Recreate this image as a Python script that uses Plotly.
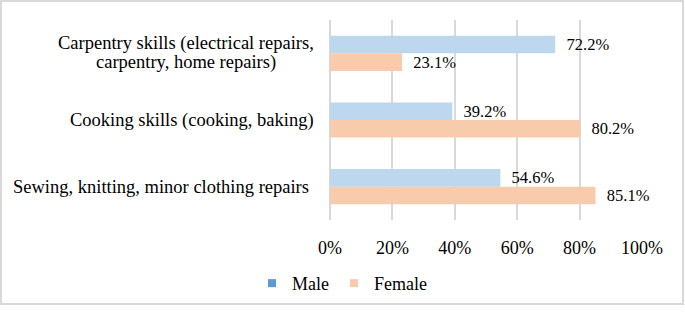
import plotly.graph_objects as go

# ---- data ----
categories = [
    "Carpentry skills (electrical repairs,<br>carpentry, home repairs)",
    "Cooking skills (cooking, baking)",
    "Sewing, knitting, minor clothing repairs",
]
male = [72.2, 39.2, 54.6]
female = [23.1, 80.2, 85.1]
series_names = ["Male", "Female"]
x_ticks = [0, 20, 40, 60, 80, 100]
x_tick_labels = ["0%", "20%", "40%", "60%", "80%", "100%"]

# ---- style / layout ----
W, H = 685, 314
ML, MR, MT, MB = 330, 43, 20, 89
PW, PH = W - ML - MR, H - MT - MB
MALE_BAR = "#BDD7EE"
FEMALE_BAR = "#F8CBAD"
MALE_LEG = "#5B9BD5"
FEMALE_LEG = "#F8CBAD"
GRID = "#D9D9D9"
FONT = "Liberation Serif"
LABEL_CENTER_PX = [185.5, 192, 160.5]  # horizontal centres of category labels (px)
LABEL_SIZE = 18.5
LINE_H = 19  # px between wrapped label lines

def px_to_paper_x(px):
    return (px - ML) / PW

def px_to_paper_y(py):
    return (H - MB - py) / PH

fig = go.Figure()
for name, vals, col in [(series_names[0], male, MALE_BAR), (series_names[1], female, FEMALE_BAR)]:
    fig.add_trace(go.Bar(
        y=categories, x=vals, orientation="h", name=name,
        marker=dict(color=col, line=dict(width=0)),
        text=["\u00a0\u00a0%.1f%%" % v for v in vals],
        textposition="outside", cliponaxis=False, constraintext="none",
        textfont=dict(family=FONT, size=16.5, color="#000000"),
        showlegend=False, hoverinfo="skip",
    ))

# legend-only entries
for name, col in [(series_names[0], MALE_LEG), (series_names[1], FEMALE_LEG)]:
    fig.add_trace(go.Scatter(
        x=[None], y=[None], mode="markers", name=name,
        marker=dict(symbol="square", size=8, color=col),
        showlegend=True,
    ))

# category labels (each wrapped line centred, tight line spacing)
for cat, cx in zip(categories, LABEL_CENTER_PX):
    lines = cat.split("<br>")
    n = len(lines)
    for i, line in enumerate(lines):
        fig.add_annotation(
            x=px_to_paper_x(cx), xref="paper", y=cat, yref="y",
            text=line, showarrow=False, xanchor="center", yanchor="middle",
            yshift=-(i - (n - 1) / 2) * LINE_H,
            align="center", font=dict(family=FONT, size=LABEL_SIZE, color="#000000"),
        )

# outer border
fig.add_shape(
    type="rect", xref="paper", yref="paper",
    x0=px_to_paper_x(1), x1=px_to_paper_x(683),
    y0=px_to_paper_y(311), y1=px_to_paper_y(0.5),
    line=dict(color=GRID, width=2), fillcolor="rgba(0,0,0,0)", layer="below",
)

fig.update_layout(
    width=W, height=H, autosize=False,
    margin=dict(l=ML, r=MR, t=MT, b=MB, pad=0),
    paper_bgcolor="white", plot_bgcolor="white",
    barmode="group", bargap=0.473, bargroupgap=0,
    font=dict(family=FONT, size=18, color="#000000"),
    legend=dict(
        orientation="h", x=px_to_paper_x(342), xanchor="center",
        y=px_to_paper_y(290), yanchor="middle",
        font=dict(family=FONT, size=18, color="#000000"),
        itemwidth=30, traceorder="normal", bgcolor="rgba(0,0,0,0)",
    ),
    xaxis=dict(
        range=[0, 100], tickmode="array", tickvals=x_ticks, ticktext=x_tick_labels,
        showgrid=True, gridcolor=GRID, gridwidth=1.5,
        zeroline=True, zerolinecolor=GRID, zerolinewidth=1.5,
        showline=False, ticks="", ticklabelstandoff=15,
        tickfont=dict(family=FONT, size=18, color="#000000"),
        fixedrange=True,
    ),
    yaxis=dict(
        autorange="reversed", showticklabels=False, showgrid=False,
        zeroline=False, showline=False, ticks="", fixedrange=True,
    ),
)

fig.write_html(
    "out.html",
    config={"displayModeBar": False},
    post_script="document.body.style.margin='0';document.body.style.padding='0';",
)
